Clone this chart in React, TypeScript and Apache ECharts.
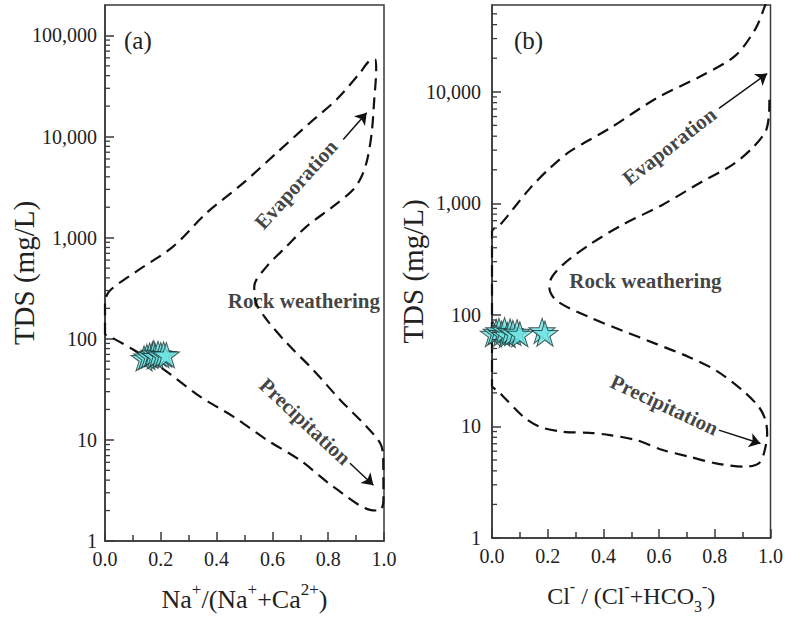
import React, { useEffect, useRef } from 'react';
import * as echarts from 'echarts';

// ---------- data ----------
const X_MIN = 0;
const X_MAX = 1;
const Y_MIN = 1;
const LEFT_Y_MAX = 200000;
const RIGHT_Y_MAX = 60000;

// Left panel (a): Gibbs envelope, Na+/(Na+ + Ca2+) vs TDS
const L_ENV_X = [0, 0, 0.018, 0.113, 0.245, 0.364, 0.496, 0.615, 0.735, 0.83, 0.914, 0.945, 0.968, 0.972, 0.965, 0.956, 0.94, 0.92, 0.89, 0.818, 0.723, 0.651, 0.58, 0.535, 0.54, 0.58, 0.651, 0.747, 0.842, 0.938, 0.986, 0.997, 0.998, 0.985, 0.95, 0.818, 0.699, 0.58, 0.46, 0.341, 0.197, 0.102, 0.018, 0];
const L_ENV_Y = [110, 230, 300, 464, 820, 1755, 3480, 6890, 13700, 23200, 42700, 55000, 58000, 46000, 23200, 10900, 5920, 4050, 2990, 2040, 1295, 820, 520, 330, 230, 154, 91, 49, 25, 13.5, 9.3, 7, 2.5, 2.0, 2.03, 3.45, 6.3, 10, 17, 26.8, 53, 77.8, 105, 110];

// Right panel (b): Cl-/(Cl- + HCO3-) vs TDS
const R_ENV_X = [0.996, 0.994, 0.982, 0.934, 0.863, 0.756, 0.613, 0.47, 0.351, 0.256, 0.214, 0.206, 0.232, 0.351, 0.47, 0.589, 0.708, 0.804, 0.899, 0.958, 0.982, 0.988, 0.976, 0.958, 0.911, 0.804, 0.708, 0.613, 0.518, 0.423, 0.351, 0.256, 0.173, 0.113, 0.042, 0.018, 0, 0, 0.03, 0.137, 0.208, 0.28, 0.423, 0.589, 0.756, 0.875, 0.946, 0.976, 0.995];
const R_ENV_Y = [8500, 6000, 4400, 3120, 2210, 1575, 973, 645, 428, 284, 216, 176, 134, 95, 72, 55, 41.8, 31.8, 21.1, 15, 11.4, 8.6, 5.7, 4.67, 4.36, 4.67, 5.36, 6.15, 7.55, 8.36, 8.77, 8.95, 9.9, 12.2, 18.4, 21.1, 23, 560, 645, 1370, 2070, 2920, 4710, 8710, 14060, 21200, 36700, 55300, 75000];

// Samples
const L_STAR_X = [0.14, 0.15, 0.16, 0.17, 0.175, 0.18, 0.19, 0.2, 0.21, 0.22];
const L_STAR_Y = [64, 66, 68, 70, 72, 67, 71, 69, 70, 69];
const R_STAR_X = [0.005, 0.015, 0.025, 0.035, 0.045, 0.055, 0.065, 0.075, 0.09, 0.1, 0.18, 0.19];
const R_STAR_Y = [67, 70, 72, 68, 73, 66, 71, 69, 70, 67, 72, 68];

// Arrows [x1, y1, x2, y2]
const L_EVAP_ARROW = [0.854, 9330, 0.938, 17170];
const L_PREC_ARROW = [0.878, 5.88, 0.962, 3.56];
const R_EVAP_ARROW = [0.815, 7100, 0.988, 14560];
const R_PREC_ARROW = [0.815, 9.27, 0.964, 7.03];

// Annotation texts
const L_TEXTS = [
  { text: 'Evaporation', x: 0.685, y: 3350, rotate: 48 },
  { text: 'Rock weathering', x: 0.713, y: 238, rotate: 0 },
  { text: 'Precipitation', x: 0.717, y: 15.2, rotate: -43 },
];
const R_TEXTS = [
  { text: 'Evaporation', x: 0.637, y: 3250, rotate: 38 },
  { text: 'Rock weathering', x: 0.551, y: 203, rotate: 0 },
  { text: 'Precipitation', x: 0.619, y: 15.6, rotate: -25 },
];

// Log-axis minor tick values
const L_MINOR_TICKS = [2, 3, 4, 5, 6, 7, 8, 9, 20, 30, 40, 50, 60, 70, 80, 90, 200, 300, 400, 500, 600, 700, 800, 900, 2000, 3000, 4000, 5000, 6000, 7000, 8000, 9000, 20000, 30000, 40000, 50000, 60000, 70000, 80000, 90000];
const R_MINOR_TICKS = [2, 3, 4, 5, 6, 7, 8, 9, 20, 30, 40, 50, 60, 70, 80, 90, 200, 300, 400, 500, 600, 700, 800, 900, 2000, 3000, 4000, 5000, 6000, 7000, 8000, 9000, 20000, 30000, 40000, 50000];

const PANEL_LABELS = ['(a)', '(b)'];
const Y_NAME = 'TDS (mg/L)';
const L_X_NAME = '{n|Na}{s|+}{n|/(Na}{s|+}{n|+Ca}{s|2+}{n|)}';
const R_X_NAME = '{n|Cl}{s|-}{n| / (Cl}{s|-}{n|+HCO}{b|3}{s|-}{n|)}';

// ---------- styling ----------
const FONT = '"Liberation Serif", "Times New Roman", serif';
const AX = '#3a3a3a';
const INK = '#111';
const STAR = 'path://M50,0 L61.8,36.2 L100,36.2 L69.1,58.6 L80.9,95 L50,72.6 L19.1,95 L30.9,58.6 L0,36.2 L38.2,36.2 Z';

const zip = (xs: number[], ys: number[]) => xs.map((x, i) => [x, ys[i]]);

function nameRich(n: number, s: number) {
  return {
    n: { fontFamily: FONT, fontSize: n, color: '#222', lineHeight: 36 },
    s: { fontFamily: FONT, fontSize: s, color: '#222', lineHeight: s, verticalAlign: 'top' },
    b: { fontFamily: FONT, fontSize: s, color: '#222', lineHeight: s + 4, verticalAlign: 'bottom' },
  };
}

function xAxisCfg(gridIndex: number, name: string, n: number, s: number) {
  return {
    type: 'value',
    gridIndex,
    min: X_MIN,
    max: X_MAX,
    interval: 0.2,
    axisLine: { show: true, lineStyle: { color: AX, width: 1.5 } },
    axisTick: { show: true, inside: true, length: 9, lineStyle: { color: AX, width: 1.5 } },
    minorTick: { show: true, splitNumber: 2, length: 6, lineStyle: { color: AX, width: 1.5 } },
    splitLine: { show: false },
    minorSplitLine: { show: false },
    axisLabel: {
      fontFamily: FONT,
      fontSize: 20,
      color: '#222',
      margin: 8,
      formatter: (v: number) => v.toFixed(1),
    },
    name,
    nameLocation: 'middle',
    nameGap: 40,
    nameMoveOverlap: false,
    nameTextStyle: { rich: nameRich(n, s) },
  };
}

function isPow10(v: number) {
  const l = Math.log10(v);
  return Math.abs(l - Math.round(l)) < 1e-6;
}

function yAxisCfg(gridIndex: number, max: number, margin: number, gap: number) {
  return {
    type: 'log',
    logBase: 10,
    gridIndex,
    min: Y_MIN,
    max,
    axisLine: { show: true, lineStyle: { color: AX, width: 1.5 } },
    axisTick: { show: true, inside: true, length: 9, lineStyle: { color: AX, width: 1.5 } },
    splitLine: { show: false },
    axisLabel: {
      fontFamily: FONT,
      fontSize: 20,
      color: '#222',
      margin,
      showMaxLabel: false,
      formatter: (v: number) => (isPow10(v) ? Math.round(v).toLocaleString('en-US') : ''),
    },
    name: Y_NAME,
    nameLocation: 'middle',
    nameGap: gap,
    nameMoveOverlap: false,
    nameTextStyle: { fontFamily: FONT, fontSize: 29, color: '#222' },
  };
}

function envelope(idx: number, xs: number[], ys: number[]) {
  return {
    type: 'line',
    xAxisIndex: idx,
    yAxisIndex: idx,
    data: zip(xs, ys),
    smooth: 0.3,
    symbol: 'none',
    clip: true,
    silent: true,
    lineStyle: { color: INK, width: 2.2, type: [12, 7] },
    z: 3,
  };
}

function arrows(idx: number, list: number[][]) {
  return {
    type: 'lines',
    coordinateSystem: 'cartesian2d',
    xAxisIndex: idx,
    yAxisIndex: idx,
    silent: true,
    symbol: ['none', 'arrow'],
    symbolSize: 11,
    lineStyle: { color: INK, width: 1.5, opacity: 1 },
    data: list.map((a) => ({ coords: [[a[0], a[1]], [a[2], a[3]]] })),
    z: 4,
  };
}

function texts(idx: number, list: { text: string; x: number; y: number; rotate: number }[]) {
  return {
    type: 'scatter',
    xAxisIndex: idx,
    yAxisIndex: idx,
    silent: true,
    symbolSize: 1,
    itemStyle: { color: 'rgba(0,0,0,0)' },
    data: list.map((t) => ({
      value: [t.x, t.y],
      label: {
        show: true,
        position: 'inside',
        formatter: t.text,
        rotate: t.rotate,
        fontFamily: FONT,
        fontWeight: 'bold',
        fontSize: 21,
        color: INK,
      },
    })),
    z: 5,
  };
}

function stars(idx: number, xs: number[], ys: number[]) {
  return {
    type: 'scatter',
    xAxisIndex: idx,
    yAxisIndex: idx,
    symbol: STAR,
    symbolSize: [26, 25],
    itemStyle: { color: '#6fe3e3', borderColor: '#1d3535', borderWidth: 1 },
    data: zip(xs, ys),
    z: 6,
  };
}

function minorTicks(idx: number, vals: number[]) {
  return {
    type: 'custom',
    xAxisIndex: idx,
    yAxisIndex: idx,
    silent: true,
    clip: false,
    data: vals.map((v) => [X_MIN, v]),
    renderItem: (_p: any, api: any) => {
      const p = api.coord([X_MIN, api.value(1)]);
      return {
        type: 'line',
        shape: { x1: p[0], y1: p[1], x2: p[0] + 5, y2: p[1] },
        style: { stroke: AX, lineWidth: 1.3 },
      };
    },
    z: 7,
  };
}

export default function App() {
  const ref = useRef<HTMLDivElement>(null);
  useEffect(() => {
    if (!ref.current) return;
    const chart = echarts.init(ref.current, undefined, { renderer: 'svg' });
    const option: any = {
      animation: false,
      backgroundColor: '#ffffff',
      grid: [
        { left: 105, top: 5, width: 279, height: 536, show: true, borderColor: AX, borderWidth: 1.5, backgroundColor: 'transparent' },
        { left: 492, top: 5, width: 280, height: 537, show: true, borderColor: AX, borderWidth: 1.5, backgroundColor: 'transparent' },
      ],
      xAxis: [xAxisCfg(0, L_X_NAME, 26, 17), xAxisCfg(1, R_X_NAME, 24, 16)],
      yAxis: [yAxisCfg(0, LEFT_Y_MAX, 8, 67), yAxisCfg(1, RIGHT_Y_MAX, 11, 65)],
      graphic: [
        { type: 'text', left: 124, top: 28, style: { text: PANEL_LABELS[0], font: `25px ${FONT}`, fill: '#222' } },
        { type: 'text', left: 514, top: 28, style: { text: PANEL_LABELS[1], font: `25px ${FONT}`, fill: '#222' } },
      ],
      series: [
        envelope(0, L_ENV_X, L_ENV_Y),
        envelope(1, R_ENV_X, R_ENV_Y),
        arrows(0, [L_EVAP_ARROW, L_PREC_ARROW]),
        arrows(1, [R_EVAP_ARROW, R_PREC_ARROW]),
        texts(0, L_TEXTS),
        texts(1, R_TEXTS),
        stars(0, L_STAR_X, L_STAR_Y),
        stars(1, R_STAR_X, R_STAR_Y),
        minorTicks(0, L_MINOR_TICKS),
        minorTicks(1, R_MINOR_TICKS),
      ],
    };
    chart.setOption(option);
    return () => chart.dispose();
  }, []);
  return (
    <div
      ref={ref}
      style={{ position: 'fixed', left: 0, top: 0, width: 786, height: 619, background: '#fff' }}
    />
  );
}
